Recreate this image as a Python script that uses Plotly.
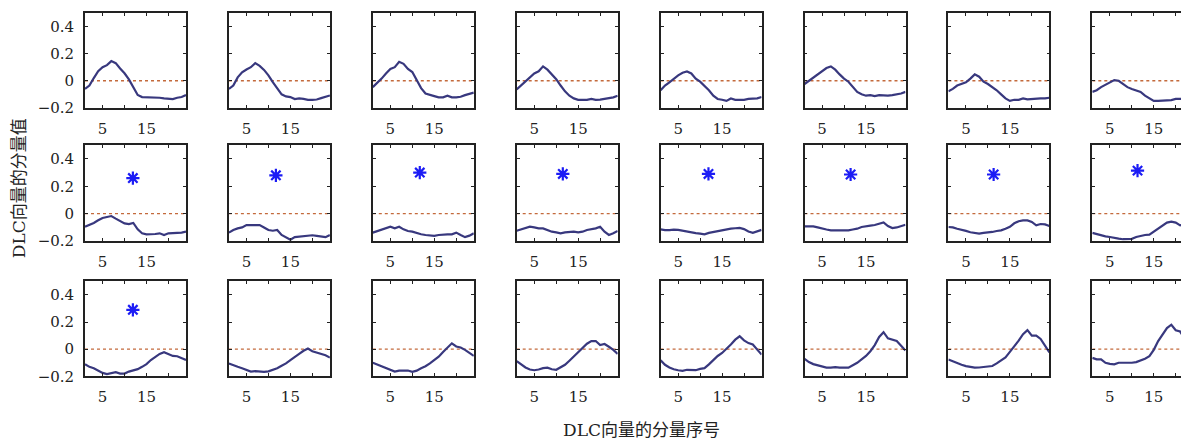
import plotly.graph_objects as go

# ---------------- data ----------------
x_idx = list(range(1, 25))

row1 = [
    [-0.06, -0.035, 0.02, 0.07, 0.10, 0.115, 0.145, 0.13, 0.09, 0.055, 0.01, -0.05,
     -0.105, -0.12, -0.12, -0.125, -0.12, -0.125, -0.13, -0.13, -0.135, -0.125, -0.12, -0.105],
    [-0.06, -0.035, 0.025, 0.062, 0.083, 0.10, 0.13, 0.11, 0.08, 0.04, -0.01, -0.06,
     -0.10, -0.115, -0.12, -0.135, -0.13, -0.133, -0.14, -0.14, -0.138, -0.128, -0.12, -0.108],
    [-0.047, -0.019, 0.016, 0.054, 0.087, 0.10, 0.14, 0.125, 0.087, 0.064, 0.0, -0.054,
     -0.094, -0.106, -0.113, -0.122, -0.122, -0.11, -0.122, -0.122, -0.118, -0.106, -0.096, -0.087],
    [-0.064, -0.035, 0.0, 0.03, 0.054, 0.07, 0.106, 0.082, 0.047, 0.012, -0.035, -0.078,
     -0.11, -0.13, -0.14, -0.14, -0.14, -0.134, -0.14, -0.139, -0.134, -0.13, -0.122, -0.11],
    [-0.07, -0.035, -0.012, 0.016, 0.04, 0.059, 0.068, 0.054, 0.016, -0.007, -0.035, -0.07,
     -0.11, -0.134, -0.14, -0.148, -0.13, -0.14, -0.14, -0.14, -0.134, -0.13, -0.13, -0.12],
    [-0.024, 0.0, 0.023, 0.047, 0.07, 0.094, 0.106, 0.082, 0.047, 0.016, -0.007, -0.047,
     -0.082, -0.099, -0.11, -0.106, -0.113, -0.106, -0.11, -0.11, -0.106, -0.10, -0.094, -0.082],
    [-0.078, -0.06, -0.035, -0.024, -0.012, 0.016, 0.047, 0.03, -0.007, -0.024, -0.047, -0.07,
     -0.10, -0.13, -0.148, -0.14, -0.14, -0.13, -0.137, -0.134, -0.13, -0.13, -0.13, -0.125],
    [-0.082, -0.07, -0.047, -0.03, -0.012, 0.005, 0.0, -0.024, -0.047, -0.06, -0.07, -0.082,
     -0.11, -0.13, -0.148, -0.148, -0.146, -0.146, -0.142, -0.134, -0.134, -0.13, -0.135, -0.13],
]

row2 = [
    [-0.095, -0.083, -0.067, -0.048, -0.031, -0.024, -0.017, -0.036, -0.052, -0.071, -0.076, -0.067,
     -0.114, -0.143, -0.15, -0.15, -0.148, -0.143, -0.155, -0.143, -0.143, -0.143, -0.138, -0.131],
    [-0.138, -0.119, -0.107, -0.10, -0.083, -0.083, -0.083, -0.083, -0.10, -0.119, -0.124, -0.119,
     -0.155, -0.174, -0.19, -0.171, -0.167, -0.162, -0.162, -0.157, -0.162, -0.167, -0.171, -0.155],
    [-0.138, -0.126, -0.119, -0.107, -0.095, -0.107, -0.095, -0.114, -0.126, -0.131, -0.143, -0.15,
     -0.155, -0.16, -0.162, -0.155, -0.15, -0.15, -0.15, -0.138, -0.155, -0.171, -0.16, -0.143],
    [-0.124, -0.114, -0.107, -0.095, -0.10, -0.107, -0.107, -0.119, -0.131, -0.136, -0.143, -0.136,
     -0.131, -0.131, -0.136, -0.131, -0.119, -0.114, -0.107, -0.095, -0.131, -0.155, -0.143, -0.125],
    [-0.114, -0.12, -0.12, -0.116, -0.118, -0.125, -0.133, -0.138, -0.142, -0.145, -0.15, -0.14,
     -0.133, -0.126, -0.121, -0.116, -0.109, -0.106, -0.104, -0.112, -0.13, -0.14, -0.128, -0.118],
    [-0.092, -0.092, -0.092, -0.10, -0.109, -0.115, -0.121, -0.121, -0.121, -0.121, -0.121, -0.115,
     -0.109, -0.097, -0.09, -0.087, -0.082, -0.075, -0.063, -0.09, -0.105, -0.10, -0.088, -0.08],
    [-0.097, -0.10, -0.11, -0.115, -0.125, -0.135, -0.14, -0.145, -0.14, -0.138, -0.133, -0.126,
     -0.121, -0.11, -0.095, -0.07, -0.055, -0.049, -0.049, -0.06, -0.085, -0.075, -0.078, -0.09],
    [-0.14, -0.15, -0.157, -0.165, -0.17, -0.178, -0.182, -0.186, -0.186, -0.183, -0.17, -0.16,
     -0.155, -0.152, -0.13, -0.105, -0.085, -0.065, -0.058, -0.065, -0.085, -0.075, -0.075, -0.08],
]

row3 = [
    [-0.111, -0.13, -0.14, -0.155, -0.175, -0.183, -0.178, -0.17, -0.18, -0.18, -0.165, -0.155,
     -0.147, -0.13, -0.11, -0.08, -0.055, -0.035, -0.022, -0.035, -0.05, -0.052, -0.065, -0.08],
    [-0.105, -0.12, -0.13, -0.14, -0.152, -0.165, -0.162, -0.164, -0.167, -0.163, -0.152, -0.14,
     -0.122, -0.105, -0.08, -0.06, -0.035, -0.012, 0.005, -0.015, -0.025, -0.032, -0.045, -0.062],
    [-0.10, -0.113, -0.126, -0.14, -0.155, -0.165, -0.158, -0.155, -0.157, -0.167, -0.158, -0.14,
     -0.126, -0.105, -0.083, -0.055, -0.02, 0.01, 0.043, 0.02, 0.012, -0.005, -0.025, -0.05],
    [-0.088, -0.115, -0.135, -0.15, -0.155, -0.15, -0.14, -0.136, -0.148, -0.152, -0.135, -0.115,
     -0.085, -0.055, -0.025, 0.007, 0.04, 0.06, 0.06, 0.03, 0.038, 0.018, -0.005, -0.035],
    [-0.081, -0.115, -0.135, -0.148, -0.155, -0.16, -0.152, -0.152, -0.155, -0.145, -0.14, -0.112,
     -0.08, -0.05, -0.028, 0.0, 0.035, 0.07, 0.095, 0.065, 0.045, 0.035, 0.0, -0.04],
    [-0.071, -0.095, -0.11, -0.12, -0.13, -0.136, -0.136, -0.132, -0.136, -0.136, -0.136, -0.118,
     -0.10, -0.075, -0.05, -0.015, 0.03, 0.09, 0.125, 0.08, 0.072, 0.06, 0.025, -0.01],
    [-0.076, -0.09, -0.10, -0.115, -0.125, -0.133, -0.136, -0.135, -0.132, -0.128, -0.124, -0.105,
     -0.085, -0.06, -0.02, 0.02, 0.063, 0.11, 0.14, 0.10, 0.10, 0.075, 0.03, -0.024],
    [-0.064, -0.075, -0.075, -0.10, -0.108, -0.112, -0.10, -0.10, -0.105, -0.10, -0.095, -0.085,
     -0.07, -0.052, -0.005, 0.06, 0.11, 0.155, 0.18, 0.14, 0.13, 0.075, 0.03, -0.01],
]

# panels carrying a star marker: (row, col) with its position
star_panels = [(1, 0), (1, 1), (1, 2), (1, 3), (1, 4), (1, 5), (1, 6), (1, 7), (2, 0)]
star_x = [11.9, 11.7, 11.7, 11.5, 11.9, 11.5, 11.3, 11.3, 11.9]
star_y = [0.26, 0.28, 0.30, 0.29, 0.29, 0.286, 0.286, 0.314, 0.29]

y_ticks = [-0.2, 0, 0.2, 0.4]
y_tick_text = ["\u22120.2", "0", "0.2", "0.4"]
x_ticks = [5, 10, 15, 20]
x_tick_text = ["5", "", "15", ""]
y_range = [-0.2, 0.5]

x_title = "DLC向量的分量序号"
y_title = "DLC向量的分量值"

# ---------------- layout geometry ----------------
W, H = 1189, 441
OFF = 8  # page body margin added by the browser
col_left = [85 + 143.9 * c - OFF for c in range(8)]
panel_w = 101
row_top = [13 - OFF, 148 - OFF, 287 - OFF]
row_bot = [110 - OFF, 246 - OFF, 384 - OFF]

FONT = "DejaVu Serif, Liberation Serif, Noto Sans CJK SC, serif"
LINE_COL = "#38387e"
ZERO_COL = "#c46a3c"
STAR_COL = "#1c1cf5"
FRAME_COL = "#222222"

rows_data = [row1, row2, row3]
fig = go.Figure()
layout = {}

k = 0
for r in range(3):
    for c in range(8):
        k += 1
        xa = "x" if k == 1 else f"x{k}"
        ya = "y" if k == 1 else f"y{k}"
        left = col_left[c]
        right = min(left + panel_w, W)
        x0, x1 = x_idx[0], x_idx[-1]
        dom_x = [left / W, right / W]
        dom_y = [1 - row_bot[r] / H, 1 - row_top[r] / H]

        layout[f"xaxis{'' if k == 1 else k}"] = dict(
            domain=dom_x, range=[x0, x1], anchor=ya,
            tickmode="array", tickvals=x_ticks, ticktext=x_tick_text,
            ticks="inside", ticklen=3, tickwidth=1.2, tickcolor=FRAME_COL,
            showline=True, linecolor=FRAME_COL, linewidth=1.8, mirror="ticks",
            showgrid=False, zeroline=False, ticklabelstandoff=6,
            tickfont=dict(family=FONT, size=15, color="#222"),
        )
        layout[f"yaxis{'' if k == 1 else k}"] = dict(
            domain=dom_y, range=y_range, anchor=xa,
            tickmode="array", tickvals=y_ticks, ticktext=y_tick_text,
            ticks="inside", ticklen=3, tickwidth=1.2, tickcolor=FRAME_COL,
            showline=True, linecolor=FRAME_COL, linewidth=1.8, mirror="ticks",
            showticklabels=(c == 0), ticklabelstandoff=6,
            showgrid=False, zeroline=False,
            tickfont=dict(family=FONT, size=15, color="#222"),
        )

        # zero reference line
        fig.add_trace(go.Scatter(
            x=[x0, x1], y=[0, 0], mode="lines", xaxis=xa, yaxis=ya,
            line=dict(color=ZERO_COL, width=1.3, dash="dot"),
            hoverinfo="skip", showlegend=False))
        # component curve
        fig.add_trace(go.Scatter(
            x=x_idx, y=rows_data[r][c], mode="lines", xaxis=xa, yaxis=ya,
            line=dict(color=LINE_COL, width=2.2), showlegend=False))
        # star
        if (r, c) in star_panels:
            i = star_panels.index((r, c))
            fig.add_trace(go.Scatter(
                x=[star_x[i]], y=[star_y[i]], mode="markers", xaxis=xa, yaxis=ya,
                marker=dict(symbol="asterisk-open", size=11, color=STAR_COL,
                            line=dict(color=STAR_COL, width=2.2)),
                showlegend=False))

layout["annotations"] = [
    dict(text=x_title, xref="paper", yref="paper", x=(641 - OFF) / W, y=1 - (439 - OFF) / H,
         showarrow=False, xanchor="center", yanchor="middle",
         font=dict(family=FONT, size=17, color="#222")),
    dict(text=y_title, xref="paper", yref="paper", x=0, y=1 - (192 - OFF) / H,
         showarrow=False, xanchor="left", yanchor="middle", textangle=-90,
         borderpad=0,
         font=dict(family=FONT, size=17, color="#222")),
]

fig.update_layout(
    width=W, height=H,
    margin=dict(l=0, r=0, t=0, b=0),
    paper_bgcolor="white", plot_bgcolor="white",
    showlegend=False,
    **layout,
)

fig.write_html("out.html")
